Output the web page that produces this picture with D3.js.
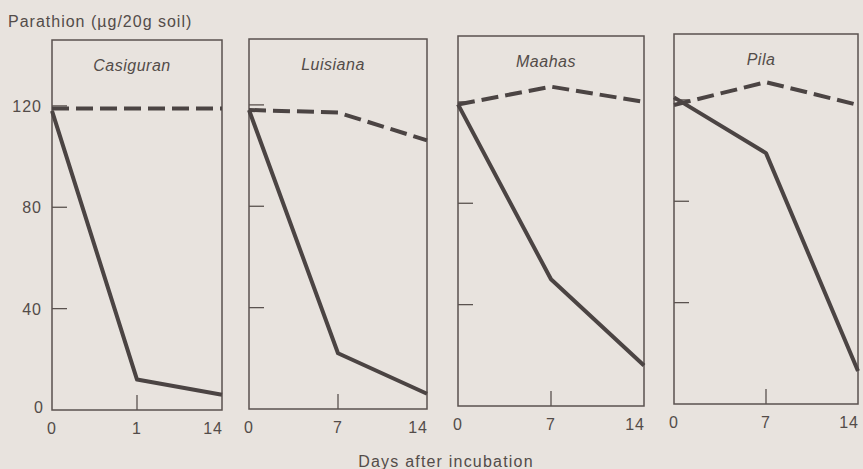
<!DOCTYPE html>
<meta charset="utf-8">
<style>
    body {
        margin: 0;
        background: #e8e3de;
        font-family: "Liberation Sans", Arial, sans-serif;
    }

    .frame {
        fill: none;
        stroke: #5a524f;
        stroke-width: 1.5px;
    }

    .tick-mark {
        stroke: #5a524f;
        stroke-width: 1.3px;
    }

    .line--solid {
        fill: none;
        stroke: #4b4443;
        stroke-width: 4px;
        stroke-linejoin: round;
    }

    .line--dashed {
        fill: none;
        stroke: #4b4443;
        stroke-width: 4px;
        stroke-dasharray: 17, 7;
    }

    text {
        fill: #534c49;
        font-size: 16px;
        letter-spacing: 1px;
    }

    .title {
        font-style: italic;
        letter-spacing: 0.5px;
    }
</style>

<body>
    <script src="https://cdnjs.cloudflare.com/ajax/libs/d3/7.8.5/d3.min.js"></script>
    <script>
        // Soils and sampling days (day labels are evenly spaced on each panel)
        var soils = ["Casiguran", "Luisiana", "Maahas", "Pila"];
        var dayLabels = [
            ["0", "1", "14"],
            ["0", "7", "14"],
            ["0", "7", "14"],
            ["0", "7", "14"]
        ];
        // Parathion, ug/20g soil: solid = flooded, dashed = control
        var solid = [
            [118, 12, 6],
            [118, 22, 6],
            [119, 50, 16],
            [121, 99, 13]
        ];
        var dashed = [
            [119, 119, 119],
            [118, 117, 106],
            [119, 126, 120],
            [118, 127, 118]
        ];
        var yTicks = [0, 40, 80, 120];

        var width = 863,
            height = 469;

        // Panel boxes (scan is slightly skewed, so each sits a bit differently)
        var panelLeft = [52, 249, 458, 674],
            panelRight = [222, 427, 644, 858],
            panelBottom = [410, 409, 406, 404],
            panelHeight = 370,
            tickLen = 15;

        var y = d3.scaleLinear()
            .domain([0, 146])
            .range([panelHeight, 0]);

        var svg = d3.select("body").append("svg")
            .attr("width", width)
            .attr("height", height);

        svg.append("text")
            .attr("x", 8)
            .attr("y", 27)
            .text("Parathion (\u00b5g/20g soil)");

        svg.append("text")
            .attr("x", 446)
            .attr("y", 467)
            .attr("text-anchor", "middle")
            .style("letter-spacing", "1.2px")
            .text("Days after incubation");

        soils.forEach(function (soil, p) {
            var w = panelRight[p] - panelLeft[p];
            var x = d3.scalePoint()
                .domain(dayLabels[p])
                .range([0, w]);

            var g = svg.append("g")
                .attr("transform", "translate(" + panelLeft[p] + "," + (panelBottom[p] - panelHeight) + ")");

            g.append("rect")
                .attr("class", "frame")
                .attr("width", w)
                .attr("height", panelHeight);

            // inward y ticks
            g.selectAll(".ytick")
                .data(yTicks.slice(1))
                .enter().append("line")
                .attr("class", "tick-mark")
                .attr("x1", 0)
                .attr("x2", tickLen)
                .attr("y1", function (d) { return y(d); })
                .attr("y2", function (d) { return y(d); });

            // inward middle x tick
            g.append("line")
                .attr("class", "tick-mark")
                .attr("x1", x(dayLabels[p][1]))
                .attr("x2", x(dayLabels[p][1]))
                .attr("y1", panelHeight)
                .attr("y2", panelHeight - tickLen);

            // x labels
            g.selectAll(".xlabel")
                .data(dayLabels[p])
                .enter().append("text")
                .attr("x", function (d) { return x(d); })
                .attr("y", panelHeight + 24)
                .attr("text-anchor", function (d, i) {
                    return i == 0 ? "middle" : (i == 2 ? "end" : "middle");
                })
                .attr("dx", function (d, i) { return i == 2 ? 1 : 0; })
                .text(function (d) { return d; });

            g.append("text")
                .attr("class", "title")
                .attr("x", w / 2 - 5)
                .attr("y", 31)
                .attr("text-anchor", "middle")
                .text(soil);

            var line = d3.line()
                .x(function (d, i) { return x(dayLabels[p][i]); })
                .y(function (d) { return y(d); });

            g.append("path")
                .attr("class", "line--dashed")
                .attr("d", line(dashed[p]));

            g.append("path")
                .attr("class", "line--solid")
                .attr("d", line(solid[p]));

            // y labels on the first panel only
            if (p == 0) {
                g.selectAll(".ylabel")
                    .data(yTicks)
                    .enter().append("text")
                    .attr("x", function (d) { return d == 0 ? -8 : -10; })
                    .attr("y", function (d) { return y(d) + (d == 0 ? 3 : 6); })
                    .attr("text-anchor", "end")
                    .text(function (d) { return d; });
            }
        });
    </script>
</body>
